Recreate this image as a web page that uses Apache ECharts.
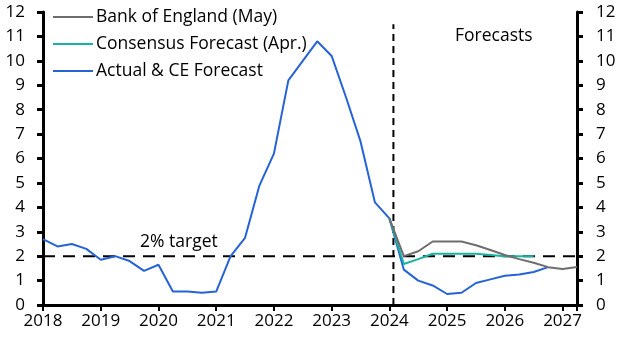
<!DOCTYPE html>
<html>
<head>
<meta charset="utf-8">
<script src="https://cdn.jsdelivr.net/npm/echarts@6/dist/echarts.min.js"></script>
<style>
  html, body { margin: 0; padding: 0; background: #fff; }
  #chart { width: 629px; height: 354px; }
</style>
</head>
<body>
<div id="chart"></div>
<script>
// quarterly points, x in decimal years
var actualDates = [2018, 2018.25, 2018.5, 2018.75, 2019, 2019.25, 2019.5, 2019.75,
  2020, 2020.25, 2020.5, 2020.75, 2021, 2021.25, 2021.5, 2021.75,
  2022, 2022.25, 2022.5, 2022.75, 2023, 2023.25, 2023.5, 2023.75,
  2024, 2024.25, 2024.5, 2024.75, 2025, 2025.25, 2025.5, 2025.75,
  2026, 2026.25, 2026.5, 2026.75];
var actualValues = [2.7, 2.4, 2.5, 2.3, 1.85, 2.0, 1.8, 1.4,
  1.65, 0.55, 0.55, 0.5, 0.55, 2.0, 2.75, 4.9,
  6.2, 9.2, 10.0, 10.8, 10.2, 8.5, 6.7, 4.2,
  3.55, 1.45, 1.0, 0.8, 0.45, 0.5, 0.9, 1.05,
  1.2, 1.25, 1.35, 1.55];

var boeDates = [2024, 2024.25, 2024.5, 2024.75, 2025, 2025.25, 2025.5, 2025.75,
  2026, 2026.25, 2026.5, 2026.75, 2027, 2027.25];
var boeValues = [3.55, 2.0, 2.2, 2.6, 2.6, 2.6, 2.45, 2.25,
  2.05, 1.88, 1.73, 1.55, 1.47, 1.56];

var consDates = [2024, 2024.25, 2024.5, 2024.75, 2025, 2025.25, 2025.5, 2025.75,
  2026, 2026.25, 2026.5];
var consValues = [3.55, 1.68, 1.88, 2.1, 2.1, 2.1, 2.1, 2.05,
  2.0, 2.0, 2.0];

var targetRate = 2;
var forecastStart = 2024.07;

function pairs(xs, ys) {
  return xs.map(function (x, i) { return [x, ys[i]]; });
}

var FONT = 'Open Sans';
var axisLabelStyle = { color: '#000', fontSize: 17, fontFamily: FONT };

var chart = echarts.init(document.getElementById('chart'));
var option = {
  animation: false,
  grid: { left: 43, right: 52, top: 12, bottom: 49 },
  legend: {
    orient: 'vertical',
    left: 53,
    top: 8,
    padding: 0,
    itemWidth: 40,
    itemHeight: 2,
    itemGap: 9,
    icon: 'rect',
    textStyle: { color: '#000', fontSize: 17.5, fontFamily: FONT, padding: [0, 0, 0, -2] },
    data: ['Bank of England (May)', 'Consensus Forecast (Apr.)', 'Actual & CE Forecast']
  },
  xAxis: {
    type: 'value',
    min: 2018,
    max: 2027.25,
    interval: 1,
    splitLine: { show: false },
    axisLine: { lineStyle: { color: '#000', width: 3 } },
    axisTick: { length: 6, lineStyle: { color: '#000', width: 2 } },
    axisLabel: Object.assign({
      margin: 8,
      formatter: function (v) { return v % 1 === 0 ? String(v) : ''; }
    }, axisLabelStyle)
  },
  yAxis: [
    {
      type: 'value', position: 'left', min: 0, max: 12, interval: 1,
      splitLine: { show: false },
      axisLine: { show: true, lineStyle: { color: '#000', width: 3 } },
      axisTick: { show: true, length: 6, lineStyle: { color: '#000', width: 3 } },
      axisLabel: Object.assign({ margin: 18 }, axisLabelStyle)
    },
    {
      type: 'value', position: 'right', min: 0, max: 12, interval: 1,
      splitLine: { show: false },
      axisLine: { show: true, lineStyle: { color: '#000', width: 3 } },
      axisTick: { show: true, length: 6, lineStyle: { color: '#000', width: 3 } },
      axisLabel: Object.assign({ margin: 19 }, axisLabelStyle)
    }
  ],
  series: [
    {
      name: '2% target',
      type: 'line',
      symbol: 'none',
      silent: true,
      data: [[2018, targetRate], [2027.25, targetRate]],
      lineStyle: { color: '#000', width: 2, type: [12, 8] },
      z: 1
    },
    {
      name: 'forecast divider',
      type: 'line',
      symbol: 'none',
      silent: true,
      data: [[forecastStart, 0], [forecastStart, 11.5]],
      lineStyle: { color: '#000', width: 2, type: [7, 5] },
      z: 1
    },
    {
      name: 'Actual & CE Forecast',
      type: 'line',
      symbol: 'none',
      data: pairs(actualDates, actualValues),
      itemStyle: { color: '#2563d6' },
      lineStyle: { color: '#2563d6', width: 2 },
      z: 3
    },
    {
      name: 'Consensus Forecast (Apr.)',
      type: 'line',
      symbol: 'none',
      data: pairs(consDates, consValues),
      itemStyle: { color: '#17b2a2' },
      lineStyle: { color: '#17b2a2', width: 2 },
      z: 4
    },
    {
      name: 'Bank of England (May)',
      type: 'line',
      symbol: 'none',
      data: pairs(boeDates, boeValues),
      itemStyle: { color: '#6e6e6e' },
      lineStyle: { color: '#6e6e6e', width: 2 },
      z: 5
    }
  ],
  graphic: [
    {
      type: 'text', left: 140, top: 233,
      style: { text: '2% target', fill: '#000', font: '17.5px "' + FONT + '"' }
    },
    {
      type: 'text', left: 455, top: 27,
      style: { text: 'Forecasts', fill: '#000', font: '17.5px "' + FONT + '"' }
    }
  ]
};
chart.setOption(option);
</script>
</body>
</html>
